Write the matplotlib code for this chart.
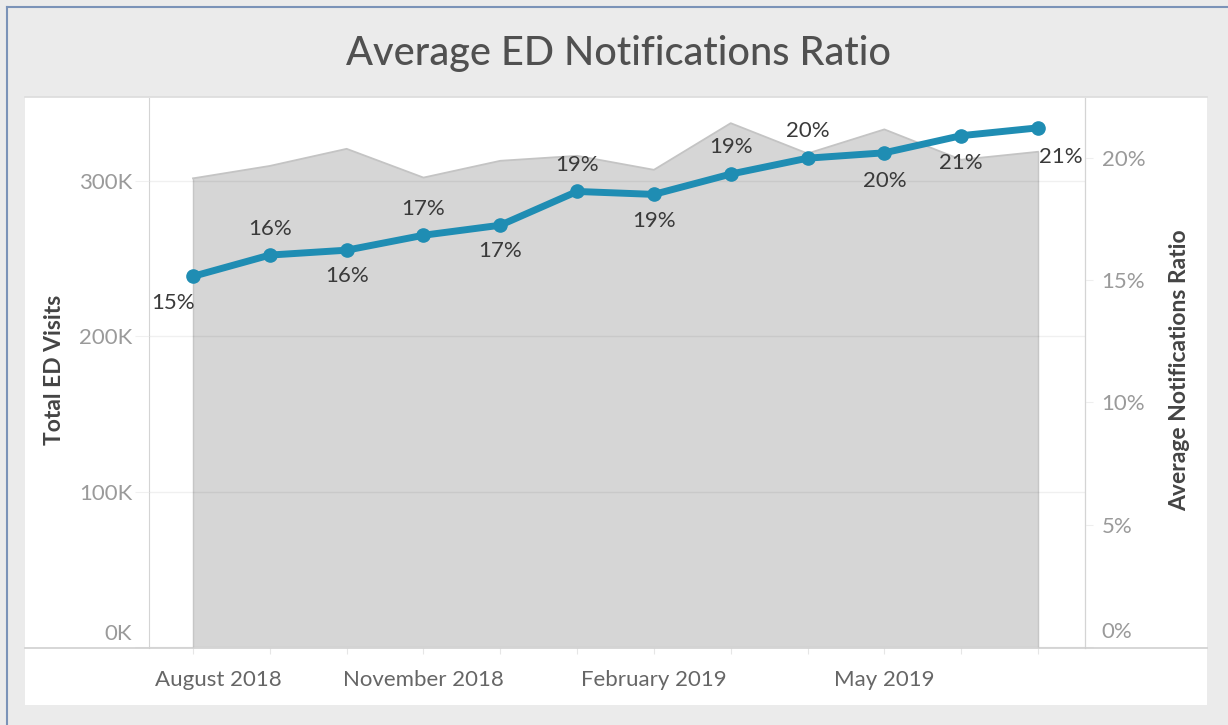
import matplotlib
matplotlib.use("Agg")
import matplotlib.pyplot as plt
from matplotlib.patches import Rectangle
from matplotlib.lines import Line2D
import matplotlib.transforms as mtransforms

plt.rcParams['font.family'] = ['Lato', 'DejaVu Sans']

# ---- data ----
months = ["Aug 2018", "Sep 2018", "Oct 2018", "Nov 2018", "Dec 2018", "Jan 2019",
          "Feb 2019", "Mar 2019", "Apr 2019", "May 2019", "Jun 2019", "Jul 2019"]
total_ed_visits = [301500, 309500, 320500, 302000, 312800, 316000,
                   307000, 337000, 317500, 333000, 313500, 318600]
avg_notif_ratio = [15.15, 16.02, 16.22, 16.83, 17.24, 18.62,
                   18.50, 19.33, 19.98, 20.20, 20.90, 21.22]
ratio_labels = ["15%", "16%", "16%", "17%", "17%", "19%",
                "19%", "19%", "20%", "20%", "21%", "21%"]
xtick_labels = ["August 2018", "November 2018", "February 2019", "May 2019"]
xtick_idx = [0, 3, 6, 9]
left_ticks = [0, 100000, 200000, 300000]
left_tick_labels = ["0K", "100K", "200K", "300K"]
right_ticks = [0, 5, 10, 15, 20]
right_tick_labels = ["0%", "5%", "10%", "15%", "20%"]

# label placement offsets in px (style)
label_offsets = [(-20, -27), (0, 26), (0, -26), (0, 26), (0, -26), (0, 26),
                 (0, -27), (0, 27), (0, 27), (0, -28), (0, -27), (23, -29)]

W, H = 1228, 725
fig = plt.figure(figsize=(W / 100, H / 100), dpi=100)
fig.patch.set_facecolor('#ebebeb')

def fx(px):
    return px / W

def fy(py):
    return 1 - py / H

# outer border (left & top)
fig.add_artist(Line2D([fx(7), fx(7)], [fy(7), fy(725)], color='#7b93b8', lw=1.5))
fig.add_artist(Line2D([fx(7), fx(1228)], [fy(7), fy(7)], color='#7b93b8', lw=1.5))

# white panel
fig.add_artist(Rectangle((fx(25), fy(705)), fx(1207) - fx(25), fy(97) - fy(705),
                         facecolor='white', edgecolor='none', zorder=0))
fig.add_artist(Line2D([fx(25), fx(1207)], [fy(97), fy(97)], color='#dcdcdc', lw=1.2))
# bottom axis line across panel
fig.add_artist(Line2D([fx(25), fx(1207)], [fy(648), fy(648)], color='#cfcfcf', lw=1.2, zorder=5))

# title
fig.text(fx(619), fy(53), "Average ED Notifications Ratio", ha='center', va='center',
         fontsize=28.5, color='#505050', fontweight='medium')

left, right, top, bottom = 149, 1085, 98, 648
ax1 = fig.add_axes([fx(left), fy(bottom), fx(right) - fx(left), fy(top) - fy(bottom)])
ax1.set_facecolor('none')
ax2 = ax1.twinx()

x = list(range(len(months)))
ax1.fill_between(x, total_ed_visits, 0, facecolor='#d6d6d6', edgecolor='none', zorder=1)
ax1.plot(x, total_ed_visits, color='#c4c4c4', lw=1.3, zorder=2)
ax1.plot([0, 0], [0, total_ed_visits[0]], color='#c6c6c6', lw=1.0, zorder=2)
ax1.plot([11, 11], [0, total_ed_visits[-1]], color='#c6c6c6', lw=1.0, zorder=2)

ax1.set_xlim(-0.573, 11.612)
ax1.set_ylim(-600, 353200)
ax1.set_yticks(left_ticks)
ax1.set_yticklabels(left_tick_labels)
ax1.set_axisbelow(False)
ax1.grid(axis='y', color='#000000', alpha=0.06, lw=1.0, zorder=3)
ax1.grid(axis='x', visible=False)

ax1.set_xticks(x)
ax1.set_xticklabels([xtick_labels[xtick_idx.index(i)] if i in xtick_idx else "" for i in x])
ax1.tick_params(axis='x', length=4, color='#e6e6e6', pad=12, labelsize=16, labelcolor='#666666')
ax1.tick_params(axis='y', length=10, color='#f0f0f0', pad=2, labelsize=16, labelcolor='#9a9a9a')

for sp in ['top', 'bottom']:
    ax1.spines[sp].set_visible(False)
    ax2.spines[sp].set_visible(False)
ax1.spines['left'].set_color('#d4d4d4')
ax1.spines['right'].set_color('#d4d4d4')
ax2.spines['left'].set_visible(False)
ax2.spines['right'].set_color('#d4d4d4')

# shift first x label and zero labels
ax1.get_xticklabels()[0].set_transform(
    ax1.get_xticklabels()[0].get_transform() + mtransforms.ScaledTranslation(25 / 100, 0, fig.dpi_scale_trans))
lab = ax1.get_yticklabels()[0]
lab.set_transform(lab.get_transform() + mtransforms.ScaledTranslation(0, 15 / 100, fig.dpi_scale_trans))

ax2.plot(x, avg_notif_ratio, color='#1f8db3', lw=5, marker='o', markersize=9.5,
         solid_capstyle='round', zorder=5)
ax2.set_ylim(-0.04, 22.44)
ax2.set_yticks(right_ticks)
ax2.set_yticklabels(right_tick_labels)
ax2.tick_params(axis='y', length=6, color='#eeeeee', pad=6, labelsize=16, labelcolor='#9a9a9a')
lab0 = ax2.get_yticklabels()[0]
lab0.set_transform(lab0.get_transform() + mtransforms.ScaledTranslation(0, 17 / 100, fig.dpi_scale_trans))

for xi, yi, txt, (dx, dy) in zip(x, avg_notif_ratio, ratio_labels, label_offsets):
    ax2.annotate(txt, (xi, yi), xytext=(dx * 0.72, dy * 0.72), textcoords='offset points',
                 ha='center', va='center', fontsize=16, color='#3a3a3a', zorder=6,
                 annotation_clip=False)

fig.text(fx(55), fy(370), "Total ED Visits", rotation=90, ha='center', va='center',
         fontsize=16.5, color='#444444', fontweight='bold')
fig.text(fx(1180), fy(370), "Average Notifications Ratio", rotation=90, ha='center', va='center',
         fontsize=16.5, color='#444444', fontweight='bold')

fig.savefig("out.png", dpi=100, facecolor=fig.get_facecolor())
